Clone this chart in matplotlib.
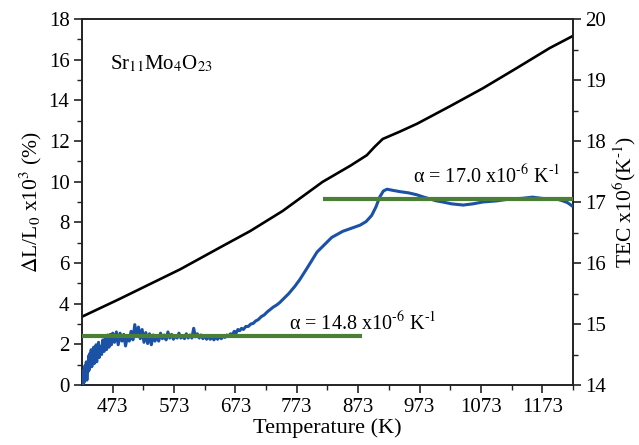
import matplotlib
matplotlib.use("Agg")
import matplotlib.pyplot as plt

plt.rcParams['font.family'] = ['Liberation Serif', 'DejaVu Serif']
plt.rcParams['mathtext.fontset'] = 'stix'

# Linear expansion dL/L0 (x10^3 %), left axis
dl_T = [423, 482, 583, 650, 697, 750, 815, 860, 887, 900, 913, 940, 969, 1022, 1076, 1131, 1185, 1223]
dl_v = [3.36, 4.20, 5.69, 6.80, 7.57, 8.56, 9.99, 10.78, 11.30, 11.72, 12.10, 12.45, 12.85, 13.70, 14.59, 15.58, 16.57, 17.17]

# TEC (x10^6 K^-1), right axis
tec_T = [423, 424, 425, 426, 427, 428, 429, 430, 431, 432, 433, 434, 435, 436, 437, 438, 439, 440, 441, 442,
         443, 444, 445, 446, 447, 448, 449, 450, 451, 452, 453, 455, 457, 459,
         461, 463, 465, 467, 469, 471, 473, 476, 479, 482, 485, 488, 491, 494, 497, 500, 503, 506, 509,
         512, 515, 518, 521, 524, 527, 530, 533, 536, 539, 542, 545, 548, 551, 554, 557, 560, 563, 566,
         569, 572, 575, 578, 581, 584, 587, 590, 593, 596, 599, 602, 605, 608, 611, 614, 617, 620, 623,
         626, 629, 632, 635, 638, 641, 644, 647, 650, 653, 656, 659, 662, 665, 668, 671, 674, 677, 680,
         683, 686, 690, 694, 698, 702, 706, 710, 715, 720, 725, 730, 735, 740, 745, 750, 760, 770, 778,
         790, 806, 815, 830, 848, 862, 876, 886, 895, 902, 908, 914, 920, 930, 941, 955, 968, 980, 990,
         1000, 1011, 1025, 1044, 1060, 1076, 1100, 1120, 1140, 1157, 1172, 1185, 1196, 1206, 1214, 1221]
tec_v = [14.00, 14.18, 14.02, 14.25, 14.05, 14.32, 14.12, 14.38, 14.08, 14.30,
         14.22, 14.48, 14.25, 14.52, 14.36, 14.58, 14.30, 14.55, 14.42, 14.62,
         14.35, 14.58, 14.45, 14.66, 14.38, 14.60, 14.50, 14.70, 14.45, 14.64,
         14.52,
         14.50, 14.74, 14.55, 14.76, 14.58, 14.82, 14.62, 14.83, 14.66, 14.85,
         14.70, 14.87,
         14.66, 14.85, 14.72, 14.83, 14.64, 14.80, 14.72, 14.88, 14.74, 14.99, 14.80, 14.95, 14.76, 14.91,
         14.70, 14.86, 14.68, 14.84, 14.66, 14.82, 14.72, 14.80, 14.72, 14.85, 14.76, 14.82, 14.74, 14.87,
         14.77, 14.83, 14.75, 14.81, 14.77, 14.85, 14.77, 14.80, 14.76, 14.84, 14.77, 14.82, 14.77, 14.93,
         14.79, 14.84, 14.77, 14.82, 14.76, 14.81, 14.75, 14.80, 14.75, 14.79, 14.74, 14.79, 14.75, 14.80,
         14.76, 14.80, 14.78, 14.82, 14.80, 14.84, 14.82, 14.88, 14.85, 14.91, 14.89, 14.93, 14.91, 14.96,
         14.96, 15.00, 15.01, 15.05, 15.07, 15.12, 15.15, 15.20, 15.24, 15.28, 15.31, 15.35, 15.40, 15.50,
         15.62, 15.73, 15.92, 16.18, 16.27, 16.42, 16.52, 16.57, 16.62, 16.68, 16.78, 16.92, 17.08, 17.18,
         17.21, 17.19, 17.17, 17.15, 17.12, 17.08, 17.05, 17.02, 17.00, 16.97, 16.95, 16.97, 17.00, 17.02,
         17.05, 17.06, 17.08, 17.06, 17.05, 17.05, 17.02, 16.99, 16.94]

# Fitted TEC levels (green lines)
fit_lo_T = [423, 879]
fit_lo_v = [14.8, 14.8]
fit_hi_T = [815, 1223]
fit_hi_v = [17.05, 17.05]

xmajor = [473, 573, 673, 773, 873, 973, 1073, 1173]
xminor = [523, 623, 723, 823, 923, 1023, 1123, 1223]

fig = plt.figure(figsize=(6.39, 4.45), dpi=100)
ax = fig.add_axes([0.1283, 0.1348, 0.7684, 0.8225])
ax2 = ax.twinx()

ax.plot(dl_T, dl_v, color='black', lw=1.9, zorder=3)
ax2.plot(tec_T, tec_v, color='#1b52a6', lw=2.2, zorder=3)
ax2.plot(fit_lo_T, fit_lo_v, color='#4b7f35', lw=3.0, zorder=4, solid_capstyle='butt')
ax2.plot(fit_hi_T, fit_hi_v, color='#4b7f35', lw=3.0, zorder=4, solid_capstyle='butt')

ax.set_xlim(423, 1223)
ax.set_ylim(0, 18)
ax2.set_ylim(14, 20)

ax.set_xticks(xmajor)
ax.set_xticks(xminor, minor=True)
ax.set_yticks(range(0, 19, 2))
ax.set_yticks(range(1, 18, 2), minor=True)
ax2.set_yticks(range(14, 21))
ax2.set_yticks([14.5 + i for i in range(6)], minor=True)

for a in (ax, ax2):
    for s in a.spines.values():
        s.set_linewidth(1.2)
        s.set_color('#222222')
    a.tick_params(which='major', direction='out', length=6, width=1.2, labelsize=15, color='#222222', pad=3)
    a.tick_params(which='minor', direction='out', length=3.5, width=1.0, color='#222222')

ax.set_xlabel('Temperature (K)', fontsize=16, labelpad=1)
ax.set_ylabel(r'$\Delta$L/L$_0$ x10$^3$ (%)', fontsize=15.5, labelpad=3)
ax2.set_ylabel(r'TEC x10$^6$(K$^{\text{-}1}$)', fontsize=15.5, labelpad=3)

ax.text(0.057, 0.877, r'Sr$_{11}$Mo$_4$O$_{23}$', transform=ax.transAxes, fontsize=15, va='center', ha='left')
ax2.text(0.422, 0.150, r'α = 14.8 x10$^{\text{-}6}$ K$^{\text{-}1}$', transform=ax.transAxes, fontsize=14.5, ha='left', va='baseline')
ax2.text(0.675, 0.552, r'α = 17.0 x10$^{\text{-}6}$ K$^{\text{-}1}$', transform=ax.transAxes, fontsize=14.5, ha='left', va='baseline')

fig.savefig('out.png', dpi=100)
